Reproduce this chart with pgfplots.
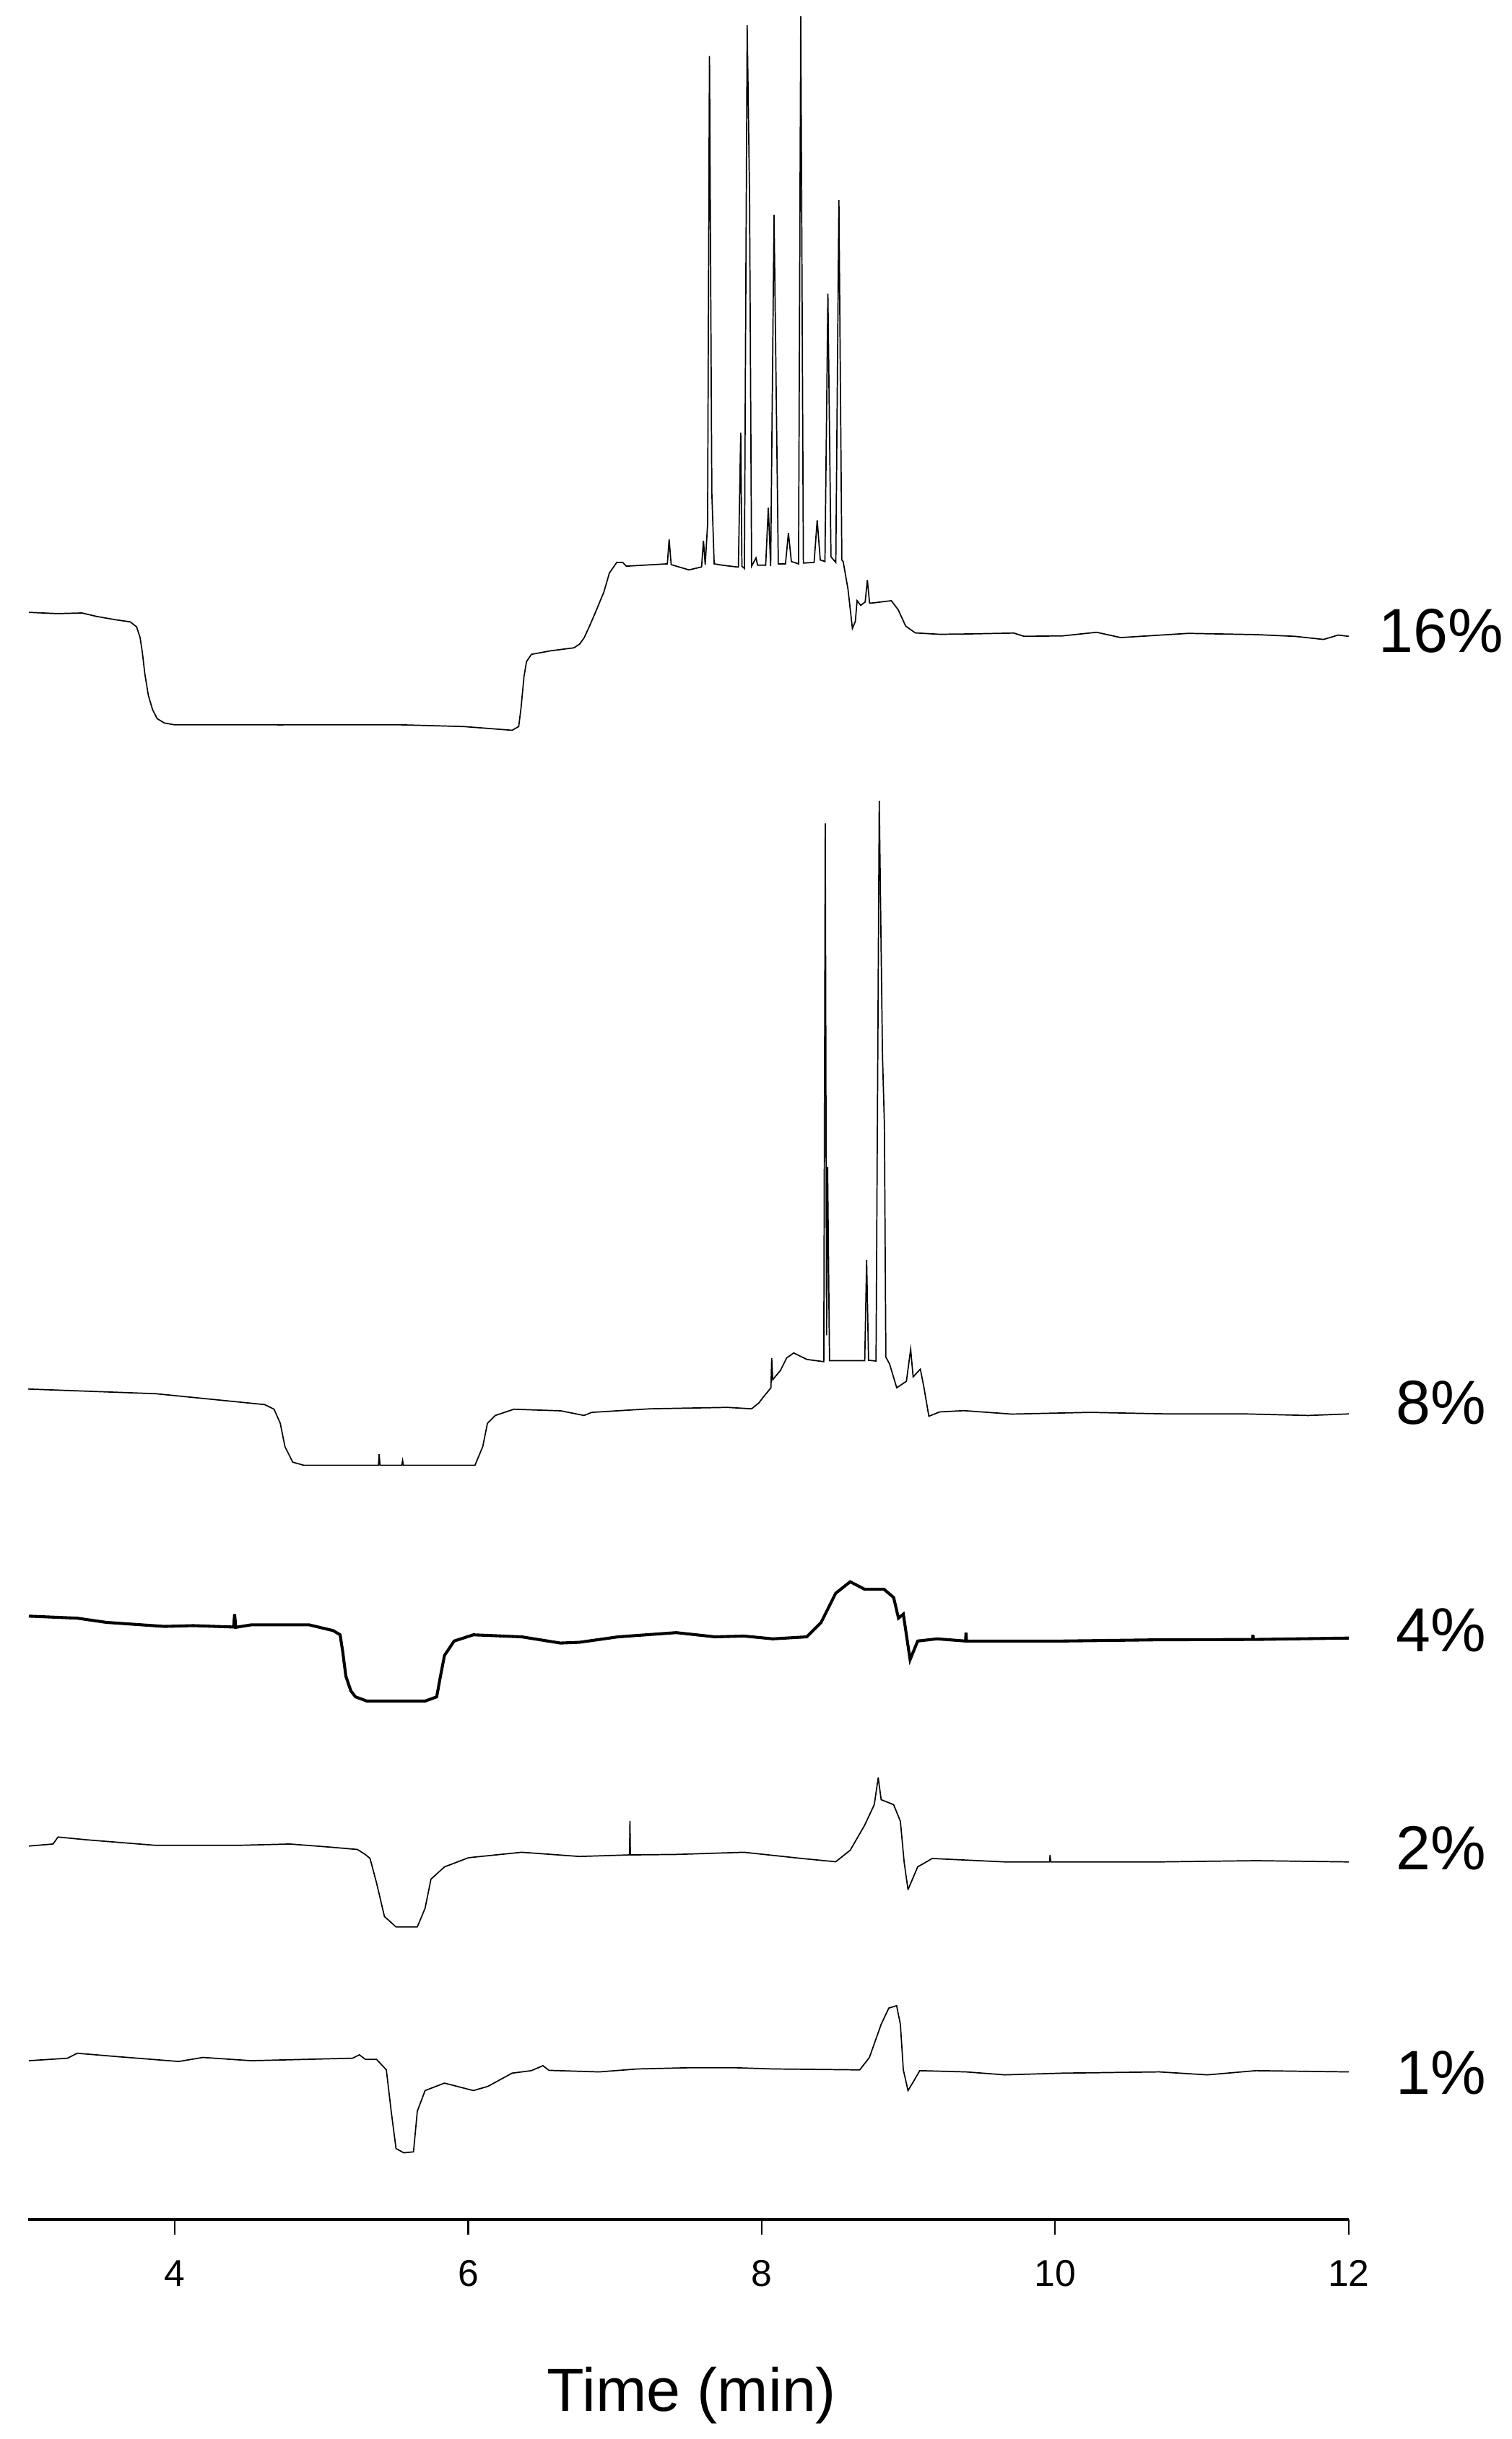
\documentclass[border=0pt]{standalone}
\usepackage{pgfplots}
\pgfplotsset{compat=1.18}
\usepackage{fontspec}
\setmainfont{Liberation Sans}
\begin{document}
\begin{tikzpicture}
\begin{axis}[
  name=ax,
  scale only axis,
  width=424.5pt, height=713.5pt,
  xmin=3, xmax=12, ymin=-1427, ymax=0,
  axis x line*=bottom,
  axis y line=none,
  axis line style={line width=1.0pt, -},
  xtick={4,6,8,10,12},
  tick align=outside,
  major tick length=4.8pt,
  every tick/.style={line width=0.5pt, black},
  /pgf/number format/assume math mode=true,
  xticklabel style={font=\fontsize{12}{14}\selectfont, anchor=base, yshift=-16.6pt},
  xlabel={Time (min)},
  xlabel style={font=\fontsize{19.6}{23}\selectfont, inner sep=0pt, at={(axis description cs:0.5026,0)}, anchor=base, yshift=-61.5pt},
  clip=false,
  cycle list={{black, no markers, line width=0.95pt, line join=round}},
]
% 16%
\addplot coordinates {(3.006,-393.7) (3.2,-394.5) (3.368,-394.1) (3.467,-396.3) (3.6,-398.5) (3.697,-399.8) (3.74,-403) (3.764,-409.9) (3.78,-420) (3.796,-433.1) (3.82,-447) (3.849,-456.3) (3.88,-462) (3.929,-464.8) (3.994,-465.9) (4.719,-466.0) (5.508,-465.9) (5.970,-467.1) (6.299,-469.5) (6.344,-467.1) (6.36,-455) (6.38,-435) (6.397,-425.4) (6.430,-420.7) (6.562,-418.4) (6.72,-416.5) (6.759,-414.1) (6.79,-410) (6.825,-402.9) (6.87,-393) (6.924,-380.7) (6.962,-368.4) (7.012,-361.6) (7.053,-361.6) (7.078,-364.0) (7.357,-362.5) (7.369,-346.8) (7.383,-363.0) (7.504,-366.4) (7.590,-364.5) (7.603,-347.7) (7.615,-363.0) (7.631,-337.4) (7.644,-36.1) (7.660,-316.7) (7.676,-362.5) (7.733,-363.4) (7.841,-364.6) (7.857,-278.2) (7.865,-364.0) (7.882,-365.5) (7.901,-16.3) (7.917,-124.3) (7.931,-364.0) (7.961,-358.7) (7.972,-363.4) (8.027,-363.4) (8.045,-326.4) (8.061,-364.0) (8.084,-138.2) (8.113,-362.5) (8.162,-362.5) (8.182,-342.7) (8.202,-361.0) (8.251,-362.5) (8.266,-10.4) (8.284,-362.0) (8.357,-361.6) (8.378,-334.4) (8.399,-360.0) (8.431,-361.0) (8.451,-188.8) (8.472,-358.0) (8.505,-361.6) (8.526,-128.7) (8.546,-360.0) (8.555,-361.0) (8.588,-378.8) (8.618,-404.0) (8.638,-399.5) (8.650,-386.2) (8.675,-389.2) (8.705,-387) (8.720,-372.9) (8.735,-387.7) (8.752,-387.7) (8.883,-386.2) (8.93,-392) (8.981,-402.5) (9.047,-406.9) (9.212,-407.8) (9.392,-407.6) (9.718,-407.0) (9.788,-409.1) (10.051,-408.8) (10.282,-406.5) (10.446,-409.9) (10.907,-407.2) (11.368,-408.0) (11.632,-409.1) (11.829,-411.1) (11.928,-408.3) (12.0,-409.1)};
% 8%
\addplot coordinates {(3.0,-893) (3.870,-896) (4.613,-903) (4.677,-906) (4.719,-915) (4.751,-930) (4.804,-940) (4.879,-942) (5.388,-942) (5.393,-935) (5.399,-942) (5.547,-942) (5.553,-939) (5.558,-942) (6.046,-942) (6.099,-930) (6.131,-915) (6.184,-910) (6.311,-906) (6.630,-907) (6.789,-910) (6.842,-908) (7.241,-905.7) (7.766,-904.8) (7.931,-905.7) (7.98,-902) (8.014,-897.8) (8.063,-892.2) (8.068,-873.1) (8.075,-887) (8.128,-881) (8.17,-873) (8.218,-869.8) (8.309,-874) (8.423,-875.4) (8.433,-529.4) (8.442,-858.5) (8.449,-750.2) (8.462,-874.8) (8.481,-874.8) (8.702,-874.8) (8.715,-810) (8.728,-874.5) (8.779,-875) (8.801,-514.8) (8.823,-678.5) (8.836,-722.8) (8.846,-872.5) (8.871,-876.8) (8.920,-892.2) (8.986,-888) (9.015,-867.5) (9.032,-885.2) (9.081,-880.2) (9.106,-892.2) (9.139,-910.5) (9.213,-907.7) (9.377,-906.9) (9.704,-909.1) (10.238,-908) (10.769,-909) (11.299,-909) (11.724,-910) (12.0,-909)};
% 4%
\addplot coordinates {(3.006,-1039) (3.335,-1040.3) (3.533,-1043) (3.929,-1045.6) (4.126,-1045.1) (4.401,-1046) (4.408,-1037.7) (4.416,-1046.2) (4.521,-1044.6) (4.916,-1044.6) (5.080,-1048.3) (5.127,-1051) (5.145,-1062) (5.166,-1077.6) (5.20,-1087) (5.232,-1090.9) (5.310,-1093.6) (5.706,-1093.6) (5.785,-1090.9) (5.81,-1078) (5.838,-1064.3) (5.904,-1055) (6.035,-1051) (6.364,-1052.3) (6.628,-1056.3) (6.759,-1055.8) (7.022,-1052.3) (7.417,-1049.6) (7.681,-1052.3) (7.879,-1051.8) (8.076,-1053.6) (8.307,-1052.3) (8.405,-1043) (8.504,-1024.3) (8.603,-1016.9) (8.701,-1021.7) (8.833,-1021.7) (8.899,-1027) (8.932,-1040.3) (8.965,-1037.7) (9.011,-1067) (9.063,-1055) (9.195,-1053.6) (9.389,-1055) (9.392,-1049.6) (9.396,-1055) (9.525,-1055) (10.051,-1055) (10.709,-1054.2) (11.345,-1054) (11.348,-1051) (11.351,-1054) (12.0,-1053.1)};
% 2%
\addplot coordinates {(3.006,-1186.8) (3.171,-1185.5) (3.204,-1181) (3.401,-1182.8) (3.863,-1186.3) (4.455,-1186.3) (4.784,-1185.5) (5.047,-1187.4) (5.245,-1189) (5.298,-1192.2) (5.331,-1194.8) (5.376,-1210.8) (5.429,-1232.1) (5.508,-1238.8) (5.653,-1238.8) (5.706,-1226.8) (5.746,-1208.1) (5.838,-1200.2) (6.002,-1194.3) (6.364,-1190.8) (6.759,-1193.5) (7.099,-1192.5) (7.102,-1170.9) (7.105,-1192.5) (7.417,-1192.2) (7.879,-1190.8) (8.274,-1194.8) (8.504,-1196.9) (8.603,-1189.5) (8.701,-1173.5) (8.767,-1160.2) (8.794,-1142.9) (8.814,-1157) (8.899,-1160.2) (8.945,-1170.9) (8.971,-1197.5) (8.997,-1214.8) (9.063,-1200.2) (9.162,-1194.8) (9.657,-1197) (9.962,-1197) (9.965,-1192.7) (9.969,-1197) (10.709,-1197) (11.368,-1196.2) (12.0,-1197)};
% 1%
\addplot coordinates {(3.006,-1324.8) (3.270,-1323.2) (3.335,-1320) (3.599,-1322.1) (4.027,-1325.3) (4.192,-1322.7) (4.521,-1324.8) (5.212,-1323.2) (5.258,-1321) (5.300,-1324) (5.376,-1324) (5.442,-1330.7) (5.475,-1357.3) (5.508,-1381.3) (5.561,-1384) (5.627,-1383.4) (5.653,-1357.3) (5.706,-1344) (5.838,-1339.2) (6.035,-1344) (6.134,-1341.3) (6.299,-1332.8) (6.430,-1331.2) (6.509,-1328) (6.550,-1331) (6.891,-1332) (7.154,-1330.1) (7.516,-1329.3) (7.813,-1329.3) (8.076,-1330.1) (8.668,-1330.7) (8.734,-1322.7) (8.814,-1301.4) (8.866,-1291) (8.919,-1289.4) (8.945,-1301.4) (8.965,-1330.7) (8.997,-1344) (9.031,-1338.7) (9.077,-1331.2) (9.392,-1332) (9.657,-1333.9) (10.051,-1332.8) (10.709,-1332) (11.038,-1333.9) (11.368,-1331.2) (12.0,-1332)};
\begin{scope}[every node/.style={font=\fontsize{20}{24}\selectfont, inner sep=0pt, anchor=center}]
\node at (axis cs:12.63,-405.5) {16\%};
\node at (axis cs:12.63,-902) {8\%};
\node at (axis cs:12.63,-1048) {4\%};
\node at (axis cs:12.63,-1188) {2\%};
\node at (axis cs:12.63,-1332.4) {1\%};
\end{scope}
\end{axis}
\path (ax.south west) ++(-9pt,-70.5pt) rectangle ++(486pt,784pt);
\end{tikzpicture}
\end{document}
